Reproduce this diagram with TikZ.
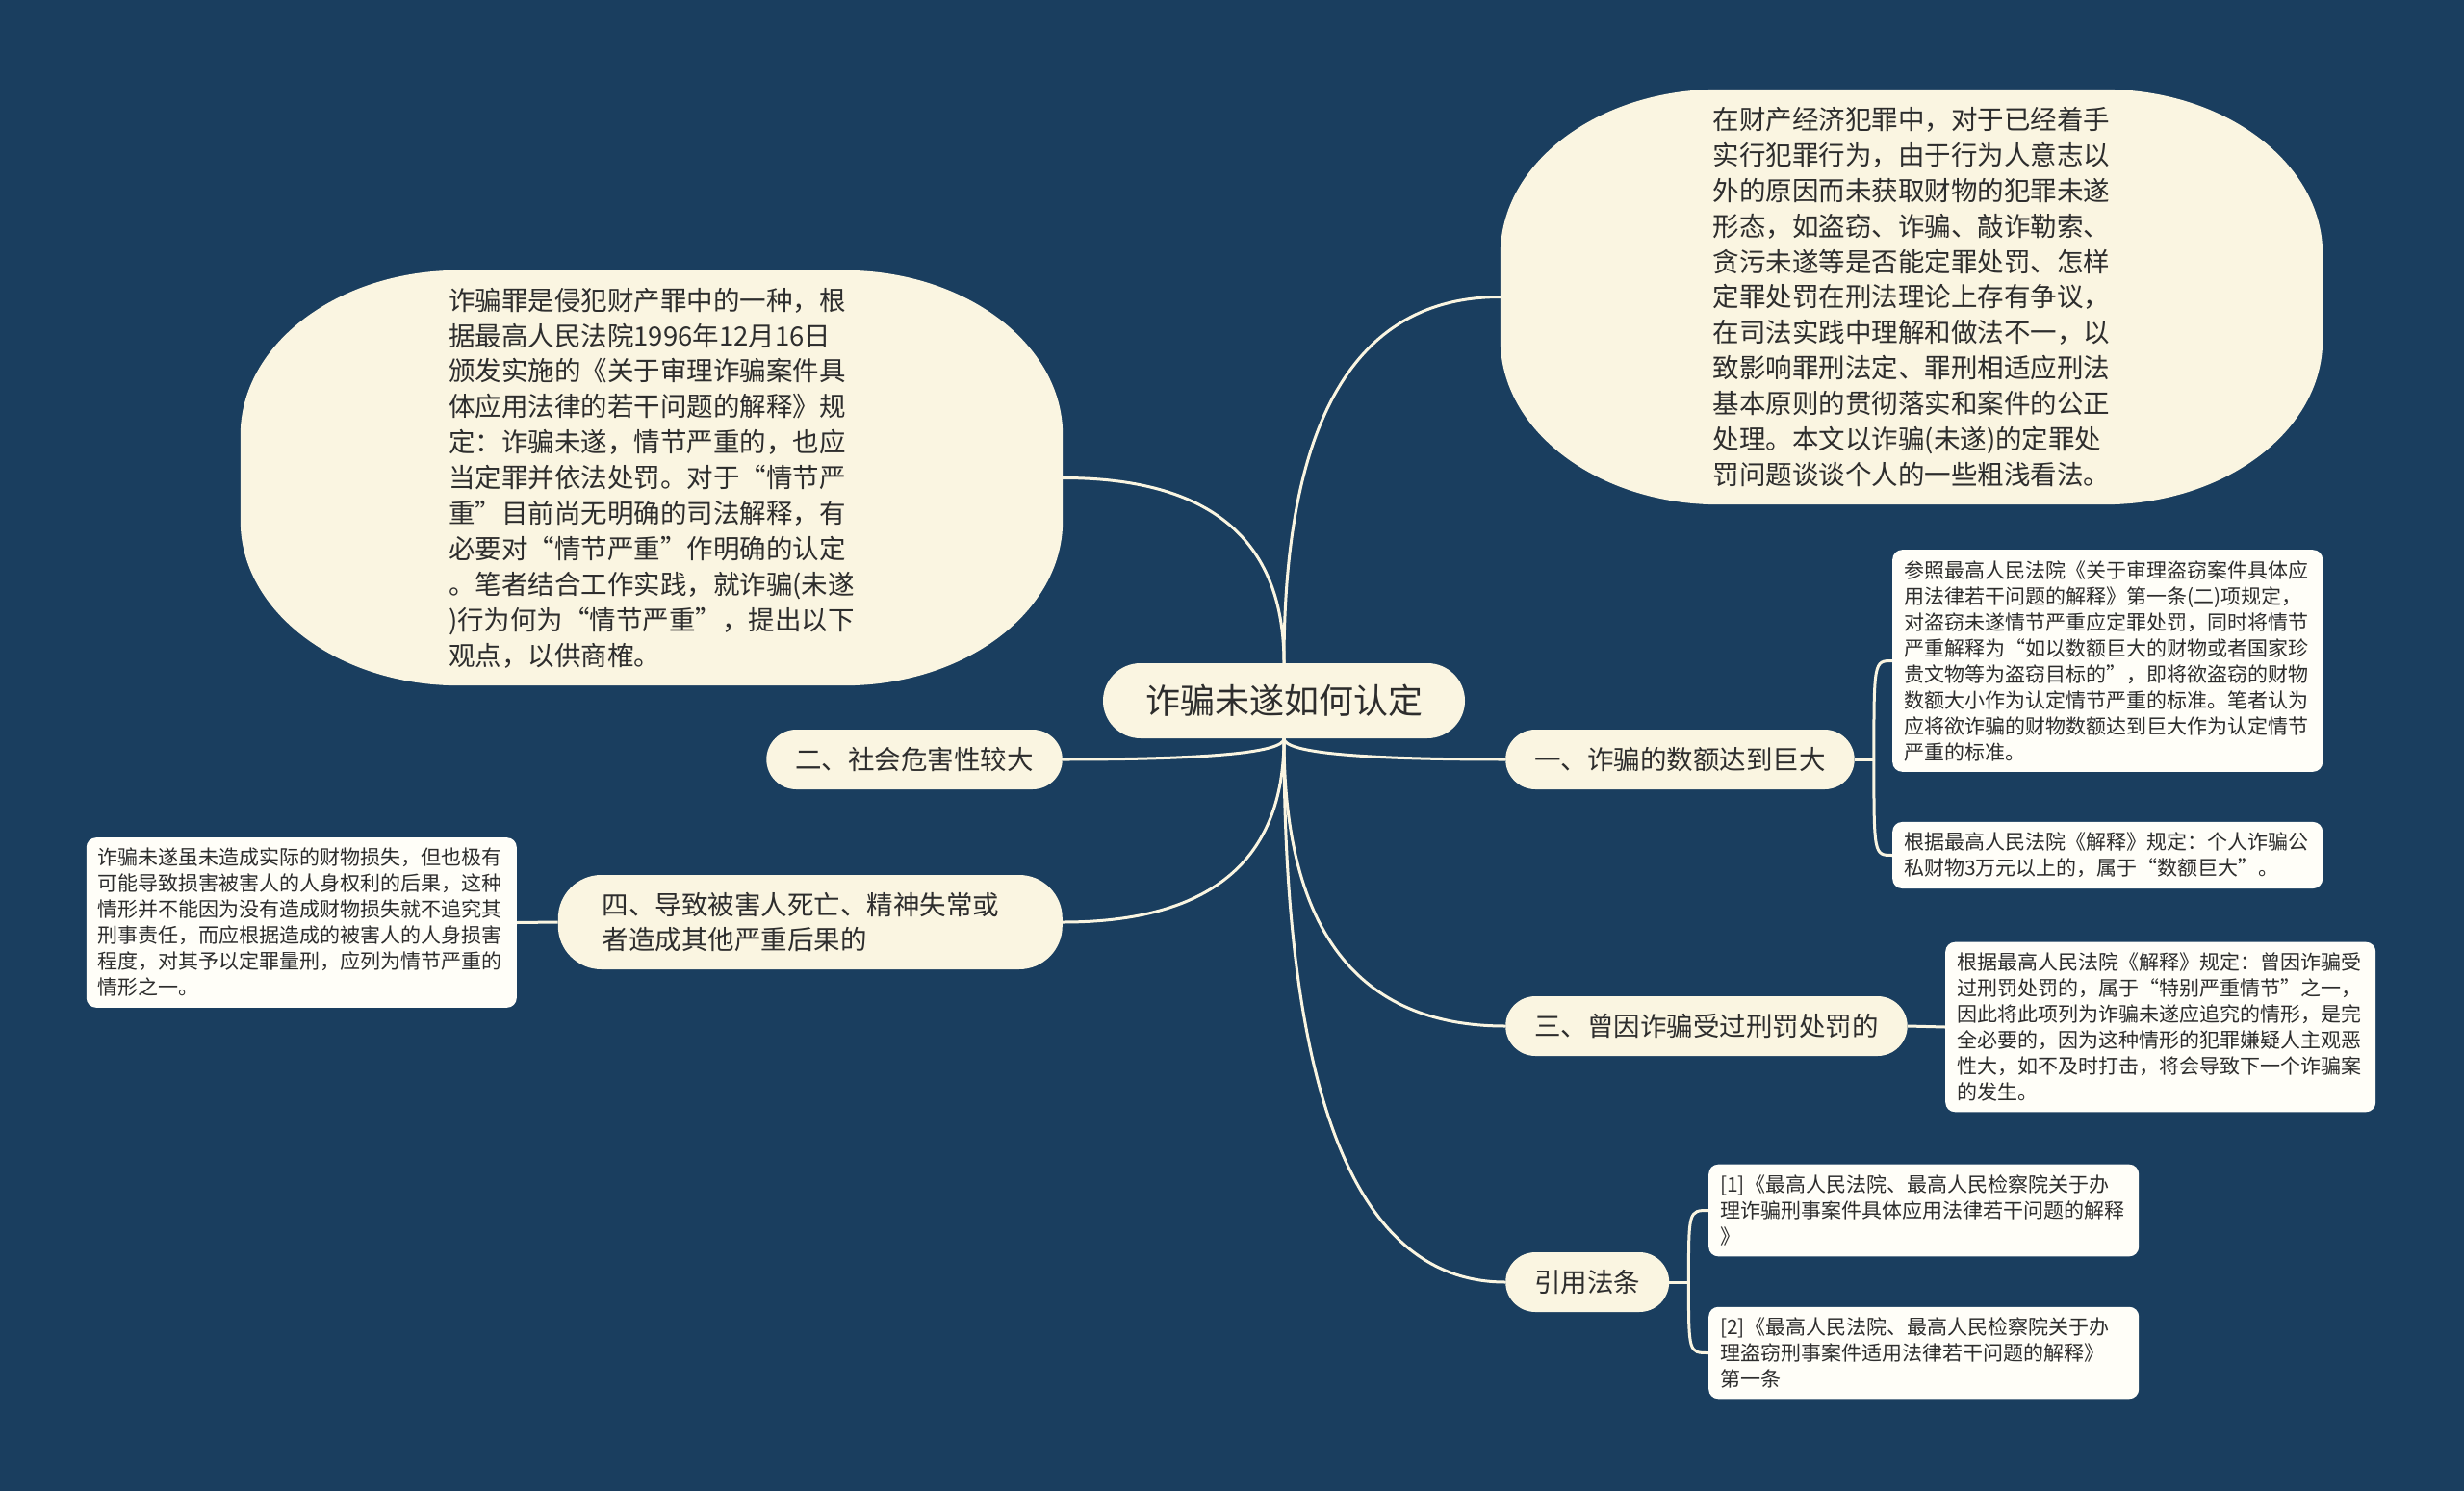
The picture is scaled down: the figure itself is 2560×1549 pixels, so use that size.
\documentclass[tikz,border=0pt]{standalone}
\usepackage{fontspec}
\setmainfont{Noto Sans CJK SC}
\usetikzlibrary{calc}
\pgfdeclarelayer{bg}
\pgfsetlayers{bg,main}
\definecolor{bgblue}{HTML}{1A3E5F}
\definecolor{cream}{HTML}{FAF5E1}
\definecolor{boxwhite}{HTML}{FFFEF8}
\definecolor{ink}{HTML}{2D2D2D}
\newcommand{\blobfill}[1]{%
\fill[cream] ($(#1.north west)+(227,0)$) -- ($(#1.north east)+(-227,0)$)
 .. controls ($(#1.north east)+(-101.6,0)$) and ($(#1.north east)+(0,76.6)$) .. ($(#1.north east)+(0,171)$)
 -- ($(#1.south east)+(0,-171)$)
 .. controls ($(#1.south east)+(0,-76.6)$) and ($(#1.south east)+(-101.6,0)$) .. ($(#1.south east)+(-227,0)$)
 -- ($(#1.south west)+(227,0)$)
 .. controls ($(#1.south west)+(101.6,0)$) and ($(#1.south west)+(0,-76.6)$) .. ($(#1.south west)+(0,-171)$)
 -- ($(#1.north west)+(0,171)$)
 .. controls ($(#1.north west)+(0,76.6)$) and ($(#1.north west)+(101.6,0)$) .. cycle;}
\newcommand{\mmlink}[2]{\draw[link] (#1) .. controls ($(#1)!0.667!(#1 |- #2)$) and ($(#2)!0.667!(#1 |- #2)$) .. (#2);}
\begin{document}
\begin{tikzpicture}[x=1pt,y=-1pt,
  link/.style={draw=cream,line width=3pt},
  rootnode/.style={fill=cream,text=ink,rounded corners=39pt,minimum height=78pt,minimum width=376pt,inner sep=0pt,font=\fontsize{36}{44}\selectfont},
  branch/.style={fill=cream,text=ink,rounded corners=31pt,minimum height=62pt,inner xsep=30pt,inner ysep=0pt,font=\fontsize{27.5}{36}\selectfont},
  bigtext/.style={text=ink,minimum width=854pt,minimum height=431pt,inner sep=0pt,align=left,font=\fontsize{27.5}{36.9}\selectfont},
  leaf/.style={fill=boxwhite,text=ink,rounded corners=10pt,text width=423pt,inner xsep=12pt,inner ysep=11pt,align=left,font=\fontsize{21}{27}\selectfont},
]
\useasboundingbox (0,0) rectangle (2560,1549);

\node[rootnode] (root) at (1334,728) {诈骗未遂如何认定};

\node[bigtext] (L) at (677,496.5) {诈骗罪是侵犯财产罪中的一种，根\\
据最高人民法院1996年12月16日\\
颁发实施的《关于审理诈骗案件具\\
体应用法律的若干问题的解释》规\\
定：诈骗未遂，情节严重的，也应\\
当定罪并依法处罚。对于“情节严\\
重”目前尚无明确的司法解释，有\\
必要对“情节严重”作明确的认定\\
。笔者结合工作实践，就诈骗(未遂\\
)行为何为“情节严重”，提出以下\\
观点，以供商榷。};

\node[bigtext] (R) at (1986,308.5) {在财产经济犯罪中，对于已经着手\\
实行犯罪行为，由于行为人意志以\\
外的原因而未获取财物的犯罪未遂\\
形态，如盗窃、诈骗、敲诈勒索、\\
贪污未遂等是否能定罪处罚、怎样\\
定罪处罚在刑法理论上存有争议，\\
在司法实践中理解和做法不一，以\\
致影响罪刑法定、罪刑相适应刑法\\
基本原则的贯彻落实和案件的公正\\
处理。本文以诈骗(未遂)的定罪处\\
罚问题谈谈个人的一些粗浅看法。};

\node[branch,anchor=west] (n1) at (1564,789) {一、诈骗的数额达到巨大};
\node[branch,anchor=east] (n2) at (1104,789) {二、社会危害性较大};
\node[branch,anchor=west] (n3) at (1564,1066) {三、曾因诈骗受过刑罚处罚的};
\node[branch,anchor=west] (nref) at (1564,1332) {引用法条};
\node[branch,anchor=east,rounded corners=45pt,minimum height=98pt,text width=432pt,inner xsep=46pt,align=left] (n4) at (1104,958) {四、导致被害人死亡、精神失常或\\者造成其他严重后果的};

\node[leaf,anchor=west] (a) at (1966,686.5) {参照最高人民法院《关于审理盗窃案件具体应\\
用法律若干问题的解释》第一条(二)项规定，\\
对盗窃未遂情节严重应定罪处罚，同时将情节\\
严重解释为“如以数额巨大的财物或者国家珍\\
贵文物等为盗窃目标的”，即将欲盗窃的财物\\
数额大小作为认定情节严重的标准。笔者认为\\
应将欲诈骗的财物数额达到巨大作为认定情节\\
严重的标准。};
\node[leaf,anchor=west] (b) at (1966,888.5) {根据最高人民法院《解释》规定：个人诈骗公\\
私财物3万元以上的，属于“数额巨大”。};
\node[leaf,anchor=west] (c) at (2021,1067) {根据最高人民法院《解释》规定：曾因诈骗受\\
过刑罚处罚的，属于“特别严重情节”之一，\\
因此将此项列为诈骗未遂应追究的情形，是完\\
全必要的，因为这种情形的犯罪嫌疑人主观恶\\
性大，如不及时打击，将会导致下一个诈骗案\\
的发生。};
\node[leaf,anchor=west] (d) at (1775,1257.5) {[1]《最高人民法院、最高人民检察院关于办\\
理诈骗刑事案件具体应用法律若干问题的解释\\
》};
\node[leaf,anchor=west] (e) at (1775,1405.5) {[2]《最高人民法院、最高人民检察院关于办\\
理盗窃刑事案件适用法律若干问题的解释》\\
第一条};
\node[leaf,anchor=east] (f) at (537,958.5) {诈骗未遂虽未造成实际的财物损失，但也极有\\
可能导致损害被害人的人身权利的后果，这种\\
情形并不能因为没有造成财物损失就不追究其\\
刑事责任，而应根据造成的被害人的人身损害\\
程度，对其予以定罪量刑，应列为情节严重的\\
情形之一。};

\coordinate (j1) at ($(n1.east)+(20,0)$);
\coordinate (j2) at ($(nref.east)+(20,0)$);

\begin{pgfonlayer}{bg}
\fill[bgblue] (0,0) rectangle (2560,1549);
\blobfill{L}
\blobfill{R}
\mmlink{root.north}{R.west}
\mmlink{root.north}{L.east}
\mmlink{root.south}{n1.west}
\mmlink{root.south}{n2.east}
\mmlink{root.south}{n4.east}
\mmlink{root.south}{n3.west}
\mmlink{root.south}{nref.west}
\draw[link] (n1.east) -- (j1);
\draw[link] (j1) .. controls (j1 |- a.west) .. (a.west);
\draw[link] (j1) .. controls (j1 |- b.west) .. (b.west);
\draw[link] (n3.east) -- (c.west);
\draw[link] (n4.west) -- (f.east);
\draw[link] (nref.east) -- (j2);
\draw[link] (j2) .. controls (j2 |- d.west) .. (d.west);
\draw[link] (j2) .. controls (j2 |- e.west) .. (e.west);
\end{pgfonlayer}
\end{tikzpicture}
\end{document}
